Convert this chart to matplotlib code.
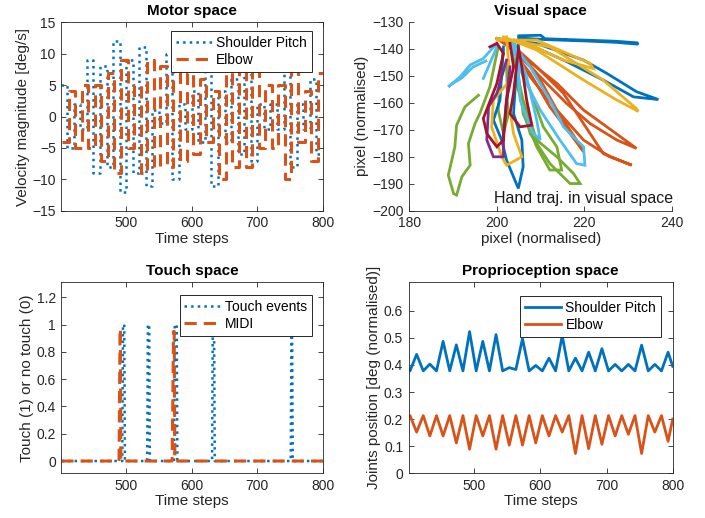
"""Four-panel sensorimotor overview: motor, visual, touch and proprioception."""
import numpy as np
import matplotlib
matplotlib.use("Agg")
import matplotlib.pyplot as plt

plt.rcParams['font.family'] = ['Liberation Sans', 'DejaVu Sans']

BLUE = '#0072BD'
ORANGE = '#D95319'
YELLOW = '#EDB120'
PURPLE = '#7E2F8E'
GREEN = '#77AC30'
CYAN = '#4DBEEE'
DARKRED = '#A2142F'
AXCOL = '#262626'

# ---- Motor space: velocity steps (one value per 10-step segment) ----
motor_shoulder_t = np.arange(400, 801, 10)
motor_shoulder_v = [5, -5, 2, -2, 9, -9, 8, -8, 12, -12, 9, -9, 11, -11, 1, -1,
                    10, -10, 2, -2, 4, -4, 11, -11, 4, -4, 6, -6, 7, -7, 2, -2,
                    2, -2, 8, -8, 2, -2, 6, -6]
motor_elbow_t = np.arange(402, 803, 10)
motor_elbow_v = [-4, 4, -5, 5, -5, 5, -7, 7, -9, 9, -5, 5, -9, 9, -8, 8,
                 -8, 8, -7, 7, -6, 6, -4, 4, -10, 10, -8, 8, -8, 8, -5, 5,
                 -5, 5, -10, 10, -4, 4, -7, 7]

# ---- Touch space ----
touch_t = [401, 494, 495, 497, 498, 532, 533, 535, 536, 573, 574, 577, 578,
           631, 632, 634, 635, 751, 752, 753, 754, 800]
touch_v = [0, 0, 1, 1, 0, 0, 1, 1, 0, 0, 1, 1, 0,
           0, 1, 1, 0, 0, 1, 1, 0, 0]
midi_t = [401, 489, 490.6, 491.2, 491.8, 570, 572.2, 573.2, 574.2, 800]
midi_v = [0, 0, 0.97, 0.97, 0, 0, 0.95, 0.95, 0, 0]

# ---- Proprioception space: zig-zag vertices ----
prop_t = [401] + list(range(403, 794, 10)) + [800]
prop_shoulder = [0.382, 0.378, 0.439, 0.378, 0.403, 0.378, 0.487, 0.378, 0.474,
                 0.378, 0.523, 0.378, 0.487, 0.378, 0.512, 0.378, 0.390, 0.383,
                 0.497, 0.378, 0.398, 0.378, 0.425, 0.378, 0.508, 0.378, 0.425,
                 0.378, 0.447, 0.378, 0.460, 0.378, 0.402, 0.378, 0.402, 0.378,
                 0.473, 0.378, 0.402, 0.378, 0.447, 0.395]
prop_elbow = [0.208, 0.213, 0.152, 0.213, 0.138, 0.213, 0.138, 0.213, 0.112,
              0.213, 0.089, 0.213, 0.138, 0.213, 0.089, 0.213, 0.104, 0.213,
              0.104, 0.213, 0.112, 0.213, 0.138, 0.213, 0.152, 0.213, 0.073,
              0.213, 0.091, 0.213, 0.107, 0.213, 0.138, 0.213, 0.144, 0.213,
              0.073, 0.213, 0.152, 0.213, 0.118, 0.200]

# ---- Visual space: hand trajectories ----
blue_top_x = [205, 210, 211, 220, 227, 232, 232.3, 227, 220, 211, 205]
blue_top_y = [-135.2, -135.0, -136.3, -136.8, -137.2, -137.8, -138.3, -137.6, -137.1, -136.6, -136]
blue_right_x = [200, 209, 219.8, 225.1, 231.9, 236.9, 231.2, 224.3, 216, 206]
blue_right_y = [-136.2, -138, -144.2, -149.1, -155.9, -158.8, -157.8, -151.6, -144.8, -137.4]
blue_low_x = [201.5, 200.7, 199.2, 201.1, 202.2, 204.9, 206, 205.7, 203.8, 204.5, 204.9]
blue_low_y = [-139.3, -159, -166.4, -173.8, -181.2, -191.7, -183.7, -173.8, -164, -146.7, -138]
yellow_a_x = [200, 212.1, 224.3, 231.9, 232.3, 227.4, 219.8, 209.1, 201.5]
yellow_a_y = [-136.2, -139.3, -151.6, -162.2, -163.2, -159, -151.6, -140.5, -135.6]
yellow_b_x = [200, 209.1, 221.3, 222, 215.2, 206, 200.5]
yellow_b_y = [-136.8, -136.8, -145.4, -147.3, -144.2, -137.4, -136.5]
yellow_c_x = [202.2, 203, 199.2, 198.8, 201.1, 202.2, 205.7, 203.8, 203]
yellow_c_y = [-135.6, -151.6, -159, -168.9, -180, -183.1, -180, -171.4, -162.7]
orange_a_x = [200, 206, 213.7, 219.8, 225.1, 231.9, 227.4, 221.3, 215.9, 209.1, 203]
orange_a_y = [-136.2, -143, -152.8, -162.7, -168.9, -176.9, -173.8, -167.7, -160.2, -149.1, -138]
orange_b_x = [202.2, 209.1, 215.2, 221.3, 224.3, 230.8, 225.8, 219.8, 213.7, 207.6, 203]
orange_b_y = [-136.8, -146.7, -156.5, -171.4, -178.8, -183.1, -180, -173.8, -162.7, -150.4, -138]
orange_c_x = [201.5, 209.1, 213.7, 218.2, 219.8, 216.7, 212.1, 207.6, 202]
orange_c_y = [-136.8, -149.1, -162.7, -173.8, -178.1, -171.4, -161.5, -149.1, -137.5]
cyan_a_x = [200, 196.9, 193.9, 191.6, 188.9, 189.5, 192, 194.5, 197.5]
cyan_a_y = [-138, -143.6, -146, -150.4, -154.1, -153.2, -150.8, -146.8, -144.5]
cyan_b_x = [200, 196.9]
cyan_b_y = [-139.3, -151]
cyan_c_x = [202.9, 207.6, 212.1, 215.2, 219.8, 220.1, 218.2, 214.4, 209.9, 206, 203.5]
cyan_c_y = [-136.8, -146.7, -159, -168.9, -176.3, -183.1, -182.5, -173.8, -162.7, -150.4, -139]
cyan_d_x = [203.8, 206.8, 209.1, 209.9, 208, 205.3, 204.5]
cyan_d_y = [-137.4, -150.4, -166.4, -173.8, -170.7, -159, -139.5]
green_a_x = [195.8, 192.7, 190.8, 190.4, 188.9, 190.1, 190.8, 192, 193.9, 193.5, 195, 196.1, 198.4, 200.3]
green_a_y = [-157.2, -161.5, -168.3, -176.3, -186.8, -193.6, -194.2, -187.4, -183.1, -175.1, -167.7, -164, -154.1, -139.3]
green_b_x = [203, 206, 209.1, 213.7, 217.5, 219, 216.7, 212.1, 207.6, 204.5]
green_b_y = [-138, -159, -173.8, -180, -186.2, -189.9, -189.9, -182.5, -171.4, -152.8]
green_c_x = [203.8, 207, 210.6, 213.7, 214.8, 212.1, 209.1, 206, 204.2]
green_c_y = [-136.8, -152.8, -168.9, -176.3, -184.9, -184.9, -176.3, -164, -140]
green_d_x = [201.5, 200.7, 200.3, 201.5, 202.5, 202.2]
green_d_y = [-140.5, -152.8, -162.7, -171.4, -165, -145]
darkred_a_x = [198.4, 200, 201.5, 200, 196.9, 197.7, 200, 201.5, 202.2, 203.8, 203]
darkred_a_y = [-139.3, -138, -141.7, -152.8, -165.8, -171.4, -176.3, -173.8, -159, -146.7, -138]
darkred_b_x = [204.9, 203.8, 203, 205.3, 208, 206.8, 205.7, 204.9]
darkred_b_y = [-140.5, -156.5, -164, -168.9, -168.3, -159, -146.7, -139.3]
purple_x = [202.2, 200, 198.1, 197.7, 199.2, 201.5, 201.5, 202.2, 203]
purple_y = [-144.2, -156.5, -161.5, -173.8, -180, -180, -171.4, -159, -146.7]

visual_traj = [
    (blue_top_x, blue_top_y, BLUE), (blue_right_x, blue_right_y, BLUE),
    (orange_a_x, orange_a_y, ORANGE), (orange_b_x, orange_b_y, ORANGE),
    (orange_c_x, orange_c_y, ORANGE),
    (green_a_x, green_a_y, GREEN), (green_b_x, green_b_y, GREEN),
    (green_c_x, green_c_y, GREEN), (green_d_x, green_d_y, GREEN),
    (blue_low_x, blue_low_y, BLUE),
    (cyan_a_x, cyan_a_y, CYAN), (cyan_b_x, cyan_b_y, CYAN),
    (cyan_c_x, cyan_c_y, CYAN), (cyan_d_x, cyan_d_y, CYAN),
    (yellow_a_x, yellow_a_y, YELLOW), (yellow_b_x, yellow_b_y, YELLOW),
    (yellow_c_x, yellow_c_y, YELLOW),
    (purple_x, purple_y, PURPLE),
    (darkred_a_x, darkred_a_y, DARKRED), (darkred_b_x, darkred_b_y, DARKRED),
]

TIME_TICKS = [500, 600, 700, 800]


def style_axes(ax):
    for sp in ax.spines.values():
        sp.set_color(AXCOL)
        sp.set_linewidth(0.6)
    ax.tick_params(direction='in', top=True, right=True, length=3.5, width=0.6,
                   colors=AXCOL, labelsize=10, pad=4)


def add_legend(ax, anchor):
    leg = ax.legend(loc='upper right', bbox_to_anchor=anchor, borderaxespad=0,
                    fontsize=10, frameon=True, fancybox=False, framealpha=1,
                    edgecolor=AXCOL, handlelength=2.6, handletextpad=0.3,
                    borderpad=0.35, labelspacing=0.2)
    leg.get_frame().set_linewidth(0.7)


fig = plt.figure(figsize=(7.05, 5.18), dpi=100)
ax_motor = fig.add_axes([0.087, 0.593, 0.371, 0.364])
ax_vis = fig.add_axes([0.5806, 0.593, 0.3726, 0.365])
ax_touch = fig.add_axes([0.087, 0.0863, 0.371, 0.3687])
ax_prop = fig.add_axes([0.5797, 0.0863, 0.3745, 0.3687])

# Motor space
ax_motor.step(motor_shoulder_t, motor_shoulder_v + motor_shoulder_v[-1:], where='post',
              color=BLUE, lw=1.8, ls=':', label='Shoulder Pitch')
ax_motor.step(motor_elbow_t, motor_elbow_v + motor_elbow_v[-1:], where='post',
              color=ORANGE, lw=2.2, ls=(0, (4, 2.3)), label='Elbow')
ax_motor.set_xlim(401, 800)
ax_motor.set_ylim(-15, 15)
ax_motor.set_xticks(TIME_TICKS)
ax_motor.set_yticks([-15, -10, -5, 0, 5, 10, 15])
ax_motor.set_title('Motor space', fontsize=11, fontweight='bold', pad=5)
ax_motor.set_xlabel('Time steps', fontsize=11, color=AXCOL, labelpad=1)
ax_motor.set_ylabel('Velocity magnitude [deg/s]', fontsize=11, color=AXCOL, labelpad=2)
style_axes(ax_motor)
add_legend(ax_motor, (0.957, 0.952))

# Visual space
for xs, ys, col in visual_traj:
    ax_vis.plot(xs, ys, color=col, lw=2, solid_joinstyle='miter')
ax_vis.set_xlim(180, 240)
ax_vis.set_ylim(-200, -130)
ax_vis.set_xticks([180, 200, 220, 240])
ax_vis.set_yticks([-200, -190, -180, -170, -160, -150, -140, -130])
ax_vis.text(199.3, -197.2, 'Hand traj. in visual space', fontsize=11.5, color='#1a1a1a',
            ha='left', va='baseline')
ax_vis.set_title('Visual space', fontsize=11, fontweight='bold', pad=5)
ax_vis.set_xlabel('pixel (normalised)', fontsize=11, color=AXCOL, labelpad=1)
ax_vis.set_ylabel('pixel (normalised)', fontsize=11, color=AXCOL, labelpad=2)
style_axes(ax_vis)
ax_vis.tick_params(top=False, right=False)
ax_vis.spines['top'].set_visible(False)
ax_vis.spines['right'].set_visible(False)

# Touch space
ax_touch.plot(touch_t, touch_v, color=BLUE, lw=1.8, ls=':', label='Touch events')
ax_touch.plot(midi_t, midi_v, color=ORANGE, lw=2.2, ls=(0, (4, 2.3)), label='MIDI')
ax_touch.set_xlim(401, 800)
ax_touch.set_ylim(-0.09, 1.31)
ax_touch.set_xticks(TIME_TICKS)
ax_touch.set_yticks([0, 0.2, 0.4, 0.6, 0.8, 1, 1.2])
ax_touch.set_yticklabels(['0', '0.2', '0.4', '0.6', '0.8', '1', '1.2'])
ax_touch.set_title('Touch space', fontsize=11, fontweight='bold', pad=5)
ax_touch.set_xlabel('Time steps', fontsize=11, color=AXCOL, labelpad=1)
ax_touch.set_ylabel('Touch (1) or no touch (0)', fontsize=11, color=AXCOL, labelpad=2)
style_axes(ax_touch)
add_legend(ax_touch, (0.957, 0.932))

# Proprioception space
ax_prop.plot(prop_t, prop_shoulder, color=BLUE, lw=2, label='Shoulder Pitch')
ax_prop.plot(prop_t, prop_elbow, color=ORANGE, lw=2, label='Elbow')
ax_prop.set_xlim(401, 800)
ax_prop.set_ylim(0, 0.705)
ax_prop.set_xticks(TIME_TICKS)
ax_prop.set_yticks([0, 0.1, 0.2, 0.3, 0.4, 0.5, 0.6])
ax_prop.set_yticklabels(['0', '0.1', '0.2', '0.3', '0.4', '0.5', '0.6'])
ax_prop.set_title('Proprioception space', fontsize=11, fontweight='bold', pad=5)
ax_prop.set_xlabel('Time steps', fontsize=11, color=AXCOL, labelpad=1)
ax_prop.set_ylabel('Joints position [deg (normalised)]', fontsize=11, color=AXCOL, labelpad=2)
style_axes(ax_prop)
add_legend(ax_prop, (0.956, 0.927))

fig.savefig('out.png', dpi=100)
